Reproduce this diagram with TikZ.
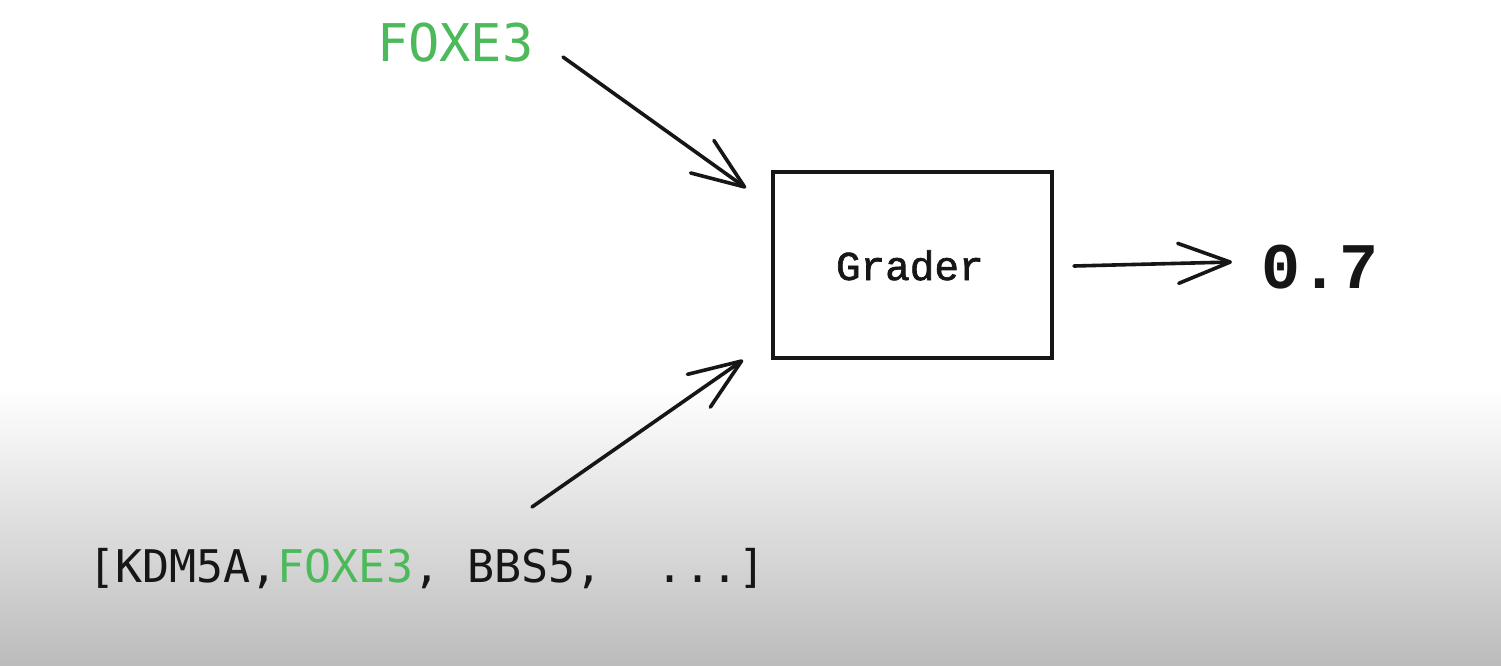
\documentclass[tikz,border=0pt]{standalone}
\usepackage{fontspec}
\usetikzlibrary{arrows.meta}
\newfontfamily\dmono{DejaVu Sans Mono}
\newfontfamily\lmono[FakeBold=1.6]{Liberation Mono}
\newfontfamily\lmonobold{Liberation Mono Bold}
\definecolor{geneGreen}{RGB}{76,186,90}
\definecolor{ink}{RGB}{22,22,22}
\definecolor{floorGray}{RGB}{188,188,188}
\tikzset{
  conn/.style={draw=ink, line width=3.6pt, line cap=round,
    -{Straight Barb[length=52pt,width=40pt,round]}},
  lbl/.style={inner sep=0pt, outer sep=0pt, text=ink, anchor=base west},
}
\begin{document}
\begin{tikzpicture}[x=1pt,y=-1pt]
  \useasboundingbox (0,0) rectangle (1501,665);
  \fill[white] (0,0) rectangle (1501,665);
  \shade[top color=white, bottom color=floorGray] (0,388) rectangle (1501,665);

  \node[lbl, text=geneGreen, font=\dmono\fontsize{52}{60}\selectfont] (gene) at (377,61) {FOXE3};

  \node[draw=ink, line width=3.4pt, minimum width=279pt, minimum height=186pt,
        inner sep=0pt] (grader) at (912.5,265) {};
  \node[lbl, font=\lmono\fontsize{41}{48}\selectfont] (gradertxt) at (836,280) {Grader};

  \node[lbl, font=\lmonobold\fontsize{65}{76}\selectfont] (score) at (1261,288) {0.7};

  \node[lbl, font=\dmono\fontsize{45}{54}\selectfont] (list) at (88,582)
    {[KDM5A,\textcolor{geneGreen}{FOXE3},\ BBS5,\ \ ...]};

  \coordinate (s1) at (563,57);
  \coordinate (t1) at (746,188);
  \coordinate (s2) at (532,507);
  \coordinate (t2) at (743,360);
  \coordinate (s3) at (1074,266);
  \coordinate (t3) at (1232,262);

  \draw[conn] (s1) -- (t1);
  \draw[conn] (s2) -- (t2);
  \draw[conn] (s3) -- (t3);
\end{tikzpicture}
\end{document}
